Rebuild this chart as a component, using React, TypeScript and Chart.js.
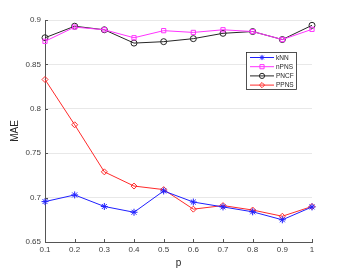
import React, { useEffect, useRef } from "react";
import { Chart, registerables } from "chart.js";

Chart.register(...registerables);

const categories = ["0.1", "0.2", "0.3", "0.4", "0.5", "0.6", "0.7", "0.8", "0.9", "1"];
const kNN = [0.6955, 0.703, 0.690, 0.6835, 0.7075, 0.695, 0.6895, 0.684, 0.675, 0.6895];
const nPNS = [0.876, 0.892, 0.889, 0.880, 0.888, 0.886, 0.889, 0.887, 0.878, 0.8895];
const PNCF = [0.880, 0.893, 0.889, 0.874, 0.8756, 0.879, 0.885, 0.887, 0.878, 0.894];
const PPNS = [0.833, 0.782, 0.729, 0.713, 0.709, 0.687, 0.691, 0.686, 0.679, 0.690];
const yTicks = [0.65, 0.7, 0.75, 0.8, 0.85, 0.9];

const FONT = "'Liberation Sans', Arial, sans-serif";

const seriesDefs = [
  { label: "kNN", data: kNN, color: "#1f1fff", style: "star" },
  { label: "nPNS", data: nPNS, color: "#ff33ff", style: "rect" },
  { label: "PNCF", data: PNCF, color: "#262626", style: "circle" },
  { label: "PPNS", data: PPNS, color: "#ff2a2a", style: "rectRot" },
];

function marker(ctx: CanvasRenderingContext2D, style: string, x: number, y: number, r: number) {
  ctx.beginPath();
  if (style === "circle") {
    ctx.arc(x, y, r, 0, Math.PI * 2);
  } else if (style === "rect") {
    ctx.rect(x - r * 0.8, y - r * 0.8, r * 1.6, r * 1.6);
  } else if (style === "rectRot") {
    ctx.moveTo(x, y - r);
    ctx.lineTo(x + r, y);
    ctx.lineTo(x, y + r);
    ctx.lineTo(x - r, y);
    ctx.closePath();
  } else {
    for (let k = 0; k < 4; k++) {
      const a = (k * Math.PI) / 4;
      ctx.moveTo(x - r * Math.cos(a), y - r * Math.sin(a));
      ctx.lineTo(x + r * Math.cos(a), y + r * Math.sin(a));
    }
  }
  ctx.stroke();
}

const tickMarks = {
  id: "tickMarks",
  afterDatasetsDraw(chart: any) {
    const ctx = chart.ctx as CanvasRenderingContext2D;
    const area = chart.chartArea;
    const xs = chart.scales.x;
    const ys = chart.scales.y;
    ctx.save();
    ctx.strokeStyle = "#555555";
    ctx.lineWidth = 1;
    ctx.beginPath();
    categories.forEach((_, i) => {
      const x = Math.round(xs.getPixelForTick(i)) + 0.5;
      ctx.moveTo(x, area.bottom);
      ctx.lineTo(x, area.bottom - 3);
    });
    yTicks.forEach((v) => {
      const y = Math.round(ys.getPixelForValue(v)) + 0.5;
      ctx.moveTo(area.left, y);
      ctx.lineTo(area.left + 3, y);
    });
    ctx.stroke();
    ctx.restore();
  },
};

const overlay = {
  id: "overlay",
  afterDraw(chart: any) {
    const ctx = chart.ctx as CanvasRenderingContext2D;
    const area = chart.chartArea;
    ctx.save();
    ctx.fillStyle = "#262626";
    ctx.font = `10px ${FONT}`;
    ctx.textAlign = "center";
    ctx.textBaseline = "middle";
    ctx.fillText("p", (area.left + area.right) / 2, 263);
    ctx.save();
    ctx.translate(15, (area.top + area.bottom) / 2);
    ctx.rotate(-Math.PI / 2);
    ctx.fillText("MAE", 0, 0);
    ctx.restore();

    const bx = 246, by = 52, bw = 50, bh = 37;
    ctx.fillStyle = "#ffffff";
    ctx.fillRect(bx, by, bw, bh);
    ctx.strokeStyle = "#262626";
    ctx.lineWidth = 0.8;
    ctx.strokeRect(bx + 0.5, by + 0.5, bw, bh);
    ctx.font = `6.5px ${FONT}`;
    ctx.textAlign = "left";
    seriesDefs.forEach((s, i) => {
      const y = by + 5.5 + i * 9.2;
      ctx.strokeStyle = s.color;
      ctx.lineWidth = 1;
      ctx.beginPath();
      ctx.moveTo(250, y);
      ctx.lineTo(274, y);
      ctx.stroke();
      marker(ctx, s.style, 262, y, 2.6);
      ctx.fillStyle = "#262626";
      ctx.fillText(s.label, 276, y + 0.5);
    });
    ctx.restore();
  },
};

export default function App() {
  const ref = useRef<HTMLCanvasElement>(null);
  useEffect(() => {
    document.body.style.margin = "0";
    const chart = new Chart(ref.current!, {
      type: "line",
      data: {
        labels: categories,
        datasets: seriesDefs.map((s) => ({
          label: s.label,
          data: s.data,
          borderColor: s.color,
          backgroundColor: "rgba(0,0,0,0)",
          pointBackgroundColor: "rgba(0,0,0,0)",
          pointBorderColor: s.color,
          pointStyle: s.style as any,
          pointRadius: s.style === "star" ? 3.5 : 3,
          pointBorderWidth: 1,
          borderWidth: 1,
          tension: 0,
        })),
      },
      options: {
        animation: false,
        responsive: false,
        devicePixelRatio: 1,
        layout: { padding: { top: 20, right: 34, left: 0, bottom: 0 } },
        plugins: { legend: { display: false }, tooltip: { enabled: false } },
        scales: {
          x: {
            type: "category",
            offset: false,
            grid: { display: false, drawTicks: false },
            border: { display: true, color: "#555555", width: 1 },
            ticks: { color: "#404040", font: { size: 8, family: FONT }, padding: 3, maxRotation: 0, autoSkip: false },
            afterFit: (s: any) => { s.height = 31; },
          },
          y: {
            type: "linear",
            min: 0.65,
            max: 0.9,
            grid: { color: "#e8e8e8", tickLength: 0, drawTicks: false },
            border: { display: true, color: "#555555", width: 1 },
            afterBuildTicks: (s: any) => { s.ticks = yTicks.map((v) => ({ value: v })); },
            ticks: {
              color: "#404040",
              font: { size: 8, family: FONT },
              padding: 4,
              callback: (v: any) => String(Number(Number(v).toFixed(2))),
            },
            afterFit: (s: any) => { s.width = 45; },
          },
        },
      },
      plugins: [tickMarks, overlay],
    });
    return () => chart.destroy();
  }, []);
  return <canvas ref={ref} width={346} height={273} style={{ display: "block" }} />;
}
